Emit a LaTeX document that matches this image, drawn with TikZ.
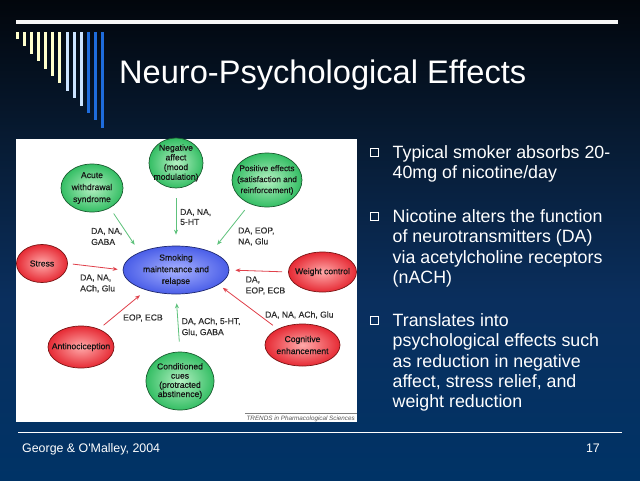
\documentclass[tikz,border=0pt]{standalone}
\usepackage{fontspec}
\setmainfont{Liberation Sans}
\newfontfamily\dfont{Liberation Sans}[FakeBold=0.35]
\usetikzlibrary{shapes.geometric,arrows.meta}
\definecolor{bgtop}{HTML}{02060C}
\definecolor{bgA}{HTML}{071B33}
\definecolor{bgB}{HTML}{0A2F5E}
\definecolor{bgbot}{HTML}{003366}
\definecolor{barY}{HTML}{FFFFCC}
\definecolor{barL}{HTML}{CCE4FF}
\definecolor{barB}{HTML}{1E6CDC}
\definecolor{ginner}{HTML}{B4F0C2}
\definecolor{gouter}{HTML}{34BE64}
\definecolor{gline}{HTML}{1A5C30}
\definecolor{rinner}{HTML}{FFAAAA}
\definecolor{router}{HTML}{E62A34}
\definecolor{rline}{HTML}{7A1414}
\definecolor{binner}{HTML}{A8B2FF}
\definecolor{bouter}{HTML}{4A5EE8}
\definecolor{bline}{HTML}{1E2870}
\definecolor{garrow}{HTML}{5EC27C}
\definecolor{rarrow}{HTML}{E0404A}
\definecolor{ntext}{HTML}{141414}
\definecolor{labtext}{HTML}{2E2E2E}
\definecolor{trgray}{HTML}{555555}
\begin{document}
\begin{tikzpicture}[x=1pt,y=-1pt,
  ell/.style={ellipse, inner xsep=-8pt, inner ysep=-4pt, line width=0.7pt, align=center, text=ntext, font=\dfont\fontsize{8.6}{10}\selectfont},
  gell/.style={ell, draw=gline, inner color=ginner, outer color=gouter},
  rell/.style={ell, draw=rline, inner color=rinner, outer color=router},
  bell/.style={ell, draw=bline, inner color=binner, outer color=bouter},
  lab/.style={anchor=west, inner sep=0pt, align=left, text=labtext, font=\dfont\fontsize{8.6}{11}\selectfont},
  garr/.style={draw=garrow, line width=0.8pt, -{Stealth[length=5pt,width=4pt]}},
  rarr/.style={draw=rarrow, line width=0.8pt, -{Stealth[length=5pt,width=4pt]}},
  bullettext/.style={anchor=north west, inner sep=0pt, align=left, text=white, font=\fontsize{17.8}{20.3}\selectfont},
  bulletbox/.style={draw=white, line width=0.9pt, minimum size=8pt, inner sep=0pt},
  foot/.style={inner sep=0pt, text=white, font=\fontsize{12.4}{14}\selectfont}
]
\useasboundingbox (0,0) rectangle (640,480);
% background
\shade[top color=bgtop, bottom color=bgA] (0,0) rectangle (640,141);
\shade[top color=bgA, bottom color=bgB] (0,140) rectangle (640,301);
\shade[top color=bgB, bottom color=bgbot] (0,300) rectangle (640,480);
% top rule and bars
\fill[white!94!gray] (16,19.5) rectangle (618,24);
\foreach \i/\c in {0/barY,1/barY,2/barY,3/barY,4/barY,5/barY,6/barY,7/barL,8/barL,9/barL,10/barB,11/barB,12/barB}{
  \fill[\c] ({16+7.08*\i},32) rectangle ({19+7.08*\i},{39+7.4*\i});
}
% title
\node[anchor=base west, inner sep=0pt, text=white, font=\fontsize{32.6}{38}\selectfont] (title) at (119,83) {Neuro-Psychological Effects};
% figure panel
\fill[white] (16,139) rectangle (357,422);
\draw[gray, line width=0.5pt] (245,413) -- (357,413);
\node[anchor=base east, inner sep=0pt, text=trgray, font=\fontsize{6.3}{7}\selectfont\itshape] (trends) at (355,420) {TRENDS in Pharmacological Sciences};
% nodes
\node[gell, minimum width=54pt, minimum height=50pt, font=\dfont\fontsize{8.6}{9.7}\selectfont] (neg) at (176,163) {Negative\\affect\\(mood\\modulation)};
\node[gell, minimum width=62pt, minimum height=48pt, font=\dfont\fontsize{8.6}{12}\selectfont] (acute) at (92,188) {Acute\\withdrawal\\syndrome};
\node[gell, minimum width=70pt, minimum height=54pt, font=\dfont\fontsize{8.2}{11}\selectfont] (pos) at (267,180) {Positive effects\\(satisfaction and\\reinforcement)};
\node[bell, minimum width=106pt, minimum height=48pt, font=\dfont\fontsize{8.6}{11.7}\selectfont] (smoke) at (176,270) {Smoking\\maintenance and\\relapse};
\node[rell, minimum width=51pt, minimum height=38pt] (stress) at (42,263.5) {Stress};
\node[rell, minimum width=68pt, minimum height=40pt] (weight) at (322.5,272) {Weight control};
\node[rell, minimum width=66pt, minimum height=42pt] (anti) at (81,347) {Antinociception};
\node[gell, minimum width=68pt, minimum height=58pt, font=\dfont\fontsize{8.6}{9.2}\selectfont] (cond) at (180,381) {Conditioned\\cues\\(protracted\\abstinence)};
\node[rell, minimum width=75pt, minimum height=42pt, font=\dfont\fontsize{8.6}{12}\selectfont] (cog) at (302.5,345) {Cognitive\\enhancement};
% labels
\node[lab] (l1) at (91,236.5) {DA, NA,\\GABA};
\node[lab, font=\dfont\fontsize{8.6}{10}\selectfont] (l2) at (180,217) {DA, NA,\\5-HT};
\node[lab] (l3) at (238,236.5) {DA, EOP,\\NA, Glu};
\node[lab] (l4) at (80,283.5) {DA, NA,\\ACh, Glu};
\node[lab] (l5) at (245.5,285.5) {DA,\\EOP, ECB};
\node[lab] (l6) at (123,318) {EOP, ECB};
\node[lab] (l7) at (181.5,327) {DA, ACh, 5-HT,\\Glu, GABA};
\node[lab] (l8) at (265,315) {DA, NA, ACh, Glu};
% arrows
\draw[garr, shorten <=6.7pt, shorten >=8.9pt] (acute.-48.7) -- (smoke.154);
\draw[garr, shorten <=10pt, shorten >=11pt] (neg.south) -- (smoke.north);
\draw[garr, shorten <=8pt, shorten >=9pt] (pos.-126) -- (smoke.27);
\draw[rarr, shorten <=5pt, shorten >=5pt] (stress.east) -- (smoke.west);
\draw[rarr, shorten <=6pt, shorten >=6pt] (weight.west) -- (smoke.east);
\draw[rarr, shorten <=6pt, shorten >=8pt] (anti.45) -- (smoke.-146);
\draw[garr, shorten <=10pt, shorten >=9pt] (cond.north) -- (smoke.south);
\draw[rarr, shorten <=6pt, shorten >=5.3pt] (cog.147) -- (smoke.-19.5);
% bullets
\node[bulletbox] (b1) at (374.5,152) {};
\node[bullettext] (t1) at (392.5,143.8) {\strut Typical smoker absorbs 20-\\40mg of nicotine/day};
\node[bulletbox] (b2) at (374.5,216) {};
\node[bullettext] (t2) at (392.5,208.2) {\strut Nicotine alters the function\\of neurotransmitters (DA)\\via acetylcholine receptors\\(nACH)};
\node[bulletbox] (b3) at (374.5,320) {};
\node[bullettext] (t3) at (392.5,312.2) {\strut Translates into\\psychological effects such\\as reduction in negative\\affect, stress relief, and\\weight reduction};
% footer
\draw[white, line width=0.8pt] (18,432) -- (622,432);
\node[foot, anchor=base west] (cite) at (22,452) {George \& O\textquotesingle Malley, 2004};
\node[foot, anchor=base east] (pg) at (600,452) {17};
\end{tikzpicture}
\end{document}
